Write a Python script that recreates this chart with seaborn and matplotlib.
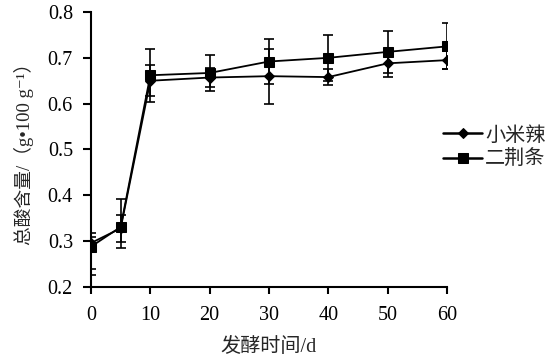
import matplotlib
matplotlib.use("Agg")
import matplotlib.pyplot as plt
import seaborn as sns
import pandas as pd
import numpy as np

days = [0, 5, 10, 20, 30, 40, 50, 60]
xml_vals = [0.296, 0.328, 0.650, 0.657, 0.660, 0.658, 0.688, 0.695]
xml_err_low = [0.057, 0.030, 0.034, 0.020, 0.060, 0.018, 0.030, 0.020]
xml_err_up = [0.022, 0.030, 0.034, 0.020, 0.060, 0.018, 0.030, 0.020]
ejt_vals = [0.288, 0.331, 0.662, 0.667, 0.692, 0.700, 0.713, 0.725]
ejt_err_low = [0.062, 0.046, 0.058, 0.040, 0.050, 0.050, 0.045, 0.050]
ejt_err_up = [0.021, 0.061, 0.058, 0.040, 0.050, 0.050, 0.045, 0.050]
series_names = ["小米辣", "二荆条"]
x_ticks = [0, 10, 20, 30, 40, 50, 60]
y_ticks = [0.2, 0.3, 0.4, 0.5, 0.6, 0.7, 0.8]

sns.set_style("ticks")
fam = ["Liberation Serif", "Noto Sans CJK SC", "DejaVu Sans"]
plt.rcParams["font.family"] = fam

df = pd.DataFrame({
    "day": days * 2,
    "val": xml_vals + ejt_vals,
    "series": [series_names[0]] * len(days) + [series_names[1]] * len(days),
})

fig = plt.figure(figsize=(5.51, 3.63), dpi=100)
ax = fig.add_axes([91 / 551, 1 - 287 / 363, (447 - 91) / 551, (287 - 12) / 363])

ax.errorbar(days, xml_vals, yerr=[xml_err_low, xml_err_up], fmt="none",
            ecolor="black", elinewidth=1.2, capsize=3.8, capthick=1.2, zorder=2)
ax.errorbar(days, ejt_vals, yerr=[ejt_err_low, ejt_err_up], fmt="none",
            ecolor="black", elinewidth=1.2, capsize=3.8, capthick=1.2, zorder=2)

sns.lineplot(data=df, x="day", y="val", hue="series", style="series",
             markers={series_names[0]: "D", series_names[1]: "s"},
             dashes=False, palette=["black", "black"], linewidth=1.3,
             markersize=7, markeredgecolor="black", ax=ax, zorder=3,
             legend=True)
for line in ax.get_lines():
    if line.get_marker() == "D":
        line.set_markersize(5.5)
    elif line.get_marker() == "s":
        line.set_markersize(7.5)

ax.set_xlim(0, 60)
ax.set_ylim(0.2, 0.8)
ax.set_xticks(x_ticks)
ax.set_yticks(y_ticks)
ax.set_yticklabels([f"{v:.1f}" for v in y_ticks])
sns.despine(ax=ax)
for s in ["left", "bottom"]:
    ax.spines[s].set_linewidth(1.5)
    ax.spines[s].set_color("black")
ax.tick_params(axis="both", direction="out", width=1.5, colors="black",
               labelsize=14.5)
ax.tick_params(axis="y", length=6, pad=7)
ax.tick_params(axis="x", length=5, pad=9)
for lbl in ax.get_xticklabels() + ax.get_yticklabels():
    lbl.set_family(fam)

ax.set_xlabel("发酵时间/d", fontsize=14.5, family=fam, labelpad=9)
ax.set_ylabel("总酸含量/（g•100 g⁻¹）", fontsize=13.5, family=fam, labelpad=10)

handles, labels = ax.get_legend_handles_labels()
for h in handles:
    h.set_linewidth(1.8)
    if h.get_marker() == "D":
        h.set_markersize(5)
    else:
        h.set_markersize(7.5)
ax.legend(handles, labels, loc="center left", bbox_to_anchor=(443 / 551, 1 - 148 / 363),
          bbox_transform=fig.transFigure, frameon=False,
          handlelength=1.95, handletextpad=0.15, labelspacing=0.25, borderpad=0,
          borderaxespad=0, prop={"family": fam, "size": 14.5})

fig.savefig("out.png", dpi=100, facecolor="white")
